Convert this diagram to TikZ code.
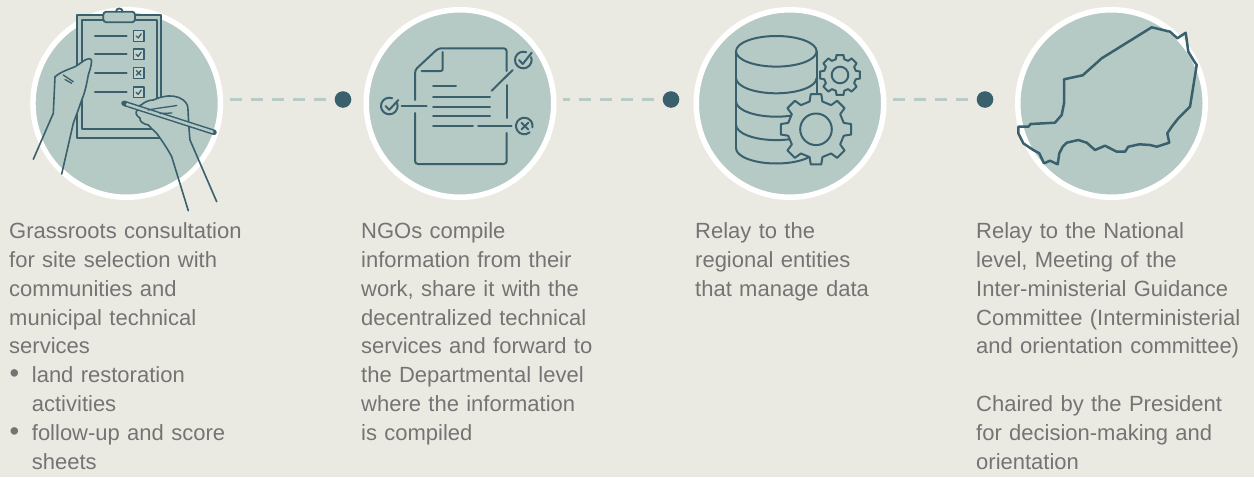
\documentclass[tikz,border=0pt]{standalone}
\usepackage{fontspec}
\setmainfont{Liberation Sans}
\usetikzlibrary{calc}
\definecolor{bgc}{RGB}{235,234,226}
\definecolor{disc}{RGB}{181,201,197}
\definecolor{ink}{RGB}{58,96,110}
\definecolor{dashc}{RGB}{184,203,199}
\definecolor{txt}{RGB}{116,116,116}
\definecolor{boxc}{RGB}{196,212,208}
\begin{document}
\begin{tikzpicture}[x=1pt,y=-1pt,
  stagecircle/.style={circle,fill=disc,draw=white,line width=5.5pt,minimum size=187.5pt,inner sep=0pt},
  stagedot/.style={circle,fill=ink,minimum size=16.6pt,inner sep=0pt},
  dashline/.style={dashc,line width=3pt,dash pattern=on 12pt off 9pt,shorten <=9pt,shorten >=6pt},
  desc/.style={anchor=base west,inner sep=0pt,text width=290pt,align=left,text=txt,
    font=\fontsize{22pt}{28.9pt}\selectfont},
  icon/.style={draw=ink,line width=2pt,line cap=round,line join=round},
  thin/.style={draw=ink,line width=1.6pt,line cap=round,line join=round}]

% canvas
\fill[bgc] (0,0) rectangle (1254,477);
\useasboundingbox (0,0) rectangle (1254,477);

% stage discs
\node[stagecircle] (c1) at (126.7,103.5) {};
\node[stagecircle] (c2) at (460,103.5) {};
\node[stagecircle] (c3) at (790,103.5) {};
\node[stagecircle] (c4) at (1111.5,103.5) {};

% stage markers
\node[stagedot] (d1) at (343,99.5) {};
\node[stagedot] (d2) at (671,99.5) {};
\node[stagedot] (d3) at (985,99.5) {};

% dashed links
\draw[dashline] (d1.west) -- (c1.east |- d1.west);
\draw[dashline] (d2.west) -- (c2.east |- d2.west);
\draw[dashline] (d3.west) -- (c3.east |- d3.west);

% ---------- clipboard held by two hands ----------
\filldraw[fill=disc,thin,line width=1.8pt] (77.3,15) rectangle (161,138);
\draw[thin,line width=1.8pt] (81.7,20) rectangle (156.7,129);
\filldraw[fill=disc,thin,line width=1.8pt,rounded corners=3pt] (103.3,11.7) rectangle (135,22.3);
\draw[thin,line width=1.8pt] (116,11.7) arc[start angle=180,end angle=360,radius=3.3];
\foreach \y in {36,54.3,73,92.3}{
  \draw[icon] (95,\y) -- (126.7,\y);
  \filldraw[thin,line width=1.5pt,fill=boxc] (133.3,{\y-5.3}) rectangle ++(10.7,10.7);
}
\foreach \y in {36,54.3,92.3}
  \draw[thin,line width=1.3pt] (136.2,\y) -- (138.2,{\y+2}) -- (141.2,{\y-2.2});
\draw[thin,line width=1.3pt] (136.4,70.6) -- (141,75.2) (141,70.6) -- (136.4,75.2);

% left hand
\begin{scope}
  \clip (126.7,103.5) circle[radius=91.5];
  \fill[disc] (33.3,159.3) -- (53.3,113.3) -- (55,76.7)
    .. controls (62,71) and (70,69) .. (75,66.7)
    .. controls (80,64) and (84,60) .. (86.7,59.3)
    .. controls (90,58) and (92,59) .. (91.5,62)
    .. controls (91,68) and (89,72) .. (88.3,75)
    .. controls (86,88) and (84,95) .. (81.7,100)
    .. controls (79,108) and (76,116) .. (73.3,123.3) -- (61.7,174) -- cycle;
\end{scope}
\draw[thin] (33.3,159.3) -- (53.3,113.3) -- (55,76.7)
    .. controls (62,71) and (70,69) .. (75,66.7)
    .. controls (80,64) and (84,60) .. (86.7,59.3)
    .. controls (90,58) and (92,59) .. (91.5,62)
    .. controls (91,68) and (89,72) .. (88.3,75)
    .. controls (86,88) and (84,95) .. (81.7,100)
    .. controls (79,108) and (76,116) .. (73.3,123.3) -- (61.7,174);
\draw[thin,line width=1.3pt] (63.3,75) -- (73.3,81.7) (65,79.5) -- (71.7,83.3);

% right hand
\begin{scope}
  \clip (126.7,103.5) circle[radius=91.5];
  \fill[disc] (188.3,210.7) -- (171.7,156.7)
    .. controls (166,146) and (160,138) .. (156.7,133.3)
    .. controls (152,129) and (150,127) .. (148.3,125)
    .. controls (143,124) and (139,121) .. (140,118)
    .. controls (136,116) and (135,112) .. (137.3,110)
    .. controls (137,107) and (139,105) .. (141,105)
    .. controls (146,101) and (150,100) .. (153.3,100)
    .. controls (158,98) and (161,97) .. (163.3,96.7)
    .. controls (170,95) and (178,96) .. (183.3,100)
    .. controls (187,103) and (188,106) .. (188,110)
    .. controls (188.5,120) and (189,130) .. (190,140) -- (216.7,201.7) -- cycle;
\end{scope}
\draw[thin] (188.3,210.7) -- (171.7,156.7)
    .. controls (166,146) and (160,138) .. (156.7,133.3)
    .. controls (152,129) and (150,127) .. (148.3,125)
    .. controls (143,124) and (139,121) .. (140,118)
    .. controls (136,116) and (135,112) .. (137.3,110)
    .. controls (137,107) and (139,105) .. (141,105)
    .. controls (146,101) and (150,100) .. (153.3,100)
    .. controls (158,98) and (161,97) .. (163.3,96.7)
    .. controls (170,95) and (178,96) .. (183.3,100)
    .. controls (187,103) and (188,106) .. (188,110)
    .. controls (188.5,120) and (189,130) .. (190,140) -- (216.7,201.7);
% pencil
\draw[ink,line width=5.5pt,line cap=round] (124,103.3) -- (214,132.3);
\draw[disc,line width=2.5pt,line cap=round] (127,104.3) -- (212.5,131.8);
\draw[thin,line width=1.3pt] (148,110) .. controls (158,108) and (168,107) .. (176.7,105.5)
  (160,113.5) -- (172,113);

% ---------- document with review marks ----------
\draw[icon,rounded corners=3pt] (415,100) -- (415,70) -- (438.3,48.3) -- (506.7,48.3) -- (506.7,71);
\draw[icon] (506.7,85) -- (506.7,118);
\draw[icon,rounded corners=3pt] (506.7,133) -- (506.7,164) -- (415,164) -- (415,113);
\draw[icon,rounded corners=2pt] (442.7,52) -- (442.7,71) -- (421.7,71);
\draw[icon] (433,86) -- (456,86);
\foreach \y in {96.7,106.7,116} \draw[icon] (433,\y) -- (490,\y);
\draw[icon] (433,126) -- (473,126);
\draw[icon] (478,126) -- (511.7,126);
\draw[icon] (491.7,90.7) -- (512.7,70);
\draw[icon] (401.7,106) -- (426.7,106);
% approved mark, upper right
\draw[icon,shift={(523.3,60)}] (-70:8.3) arc[start angle=-70,end angle=-380,radius=8.3];
\draw[icon] (519,60) -- (522.7,64) -- (531.7,52.7);
% approved mark, left
\draw[icon,shift={(389.3,106)}] (-70:8.3) arc[start angle=-70,end angle=-380,radius=8.3];
\draw[icon] (385.5,106) -- (389.3,109.8) -- (398.3,100);
% rejected mark
\draw[icon,shift={(524.3,126)}] (10:8.3) arc[start angle=10,end angle=-310,radius=8.3];
\draw[icon] (521.5,122.7) -- (528.3,129.5) (528.3,122.7) -- (521.5,129.5);

% ---------- database with gears ----------
\draw[icon] (736,51.3) -- (736,148.2);
\draw[icon] (816.6,51.3) -- (816.6,148.2);
\draw[icon] (776.3,51.3) ellipse[x radius=40.3,y radius=15.3];
\foreach \c in {78,101.4,124.8,148.2}
  \draw[icon] (736,\c) arc[start angle=180,end angle=0,x radius=40.3,y radius=15.3];
\begin{scope}[shift={(816,129.3)}]
  \filldraw[icon,fill=disc] (77:28.5)
    \foreach \a in {90,135,...,405}{ -- ({\a-13}:28.5) -- ({\a-8.5}:35.5) -- ({\a+8.5}:35.5) -- ({\a+13}:28.5) } -- cycle;
  \draw[icon] (0,0) circle[radius=15.8];
\end{scope}
\begin{scope}[shift={(840,75)}]
  \filldraw[icon,fill=disc] (75:16.3)
    \foreach \a in {90,135,...,405}{ -- ({\a-15}:16.3) -- ({\a-10}:20.3) -- ({\a+10}:20.3) -- ({\a+15}:16.3) } -- cycle;
  \draw[icon] (0,0) circle[radius=8.3];
\end{scope}

% ---------- country outline ----------
\draw[icon,line width=2.5pt] (1018.3,126.7) -- (1028.3,126.7) -- (1030.7,124) -- (1055,122.7)
  -- (1057.3,120) -- (1061.7,115) -- (1064,103.3) -- (1064,79.3) -- (1082.7,75.3)
  -- (1101.7,58.3) -- (1151.7,27.3) -- (1170,31.7) -- (1177.3,38.3) -- (1185.7,32.7)
  -- (1188.3,51.7) -- (1193.3,60) -- (1196.7,65) -- (1190,106.7) -- (1178.3,118.3)
  -- (1171.7,126.7) -- (1167.3,133.3) -- (1169.3,142.7) -- (1156.7,146.7) -- (1150,145)
  -- (1139.3,144.3) -- (1128.3,146.7) -- (1125,151.7) -- (1116.7,151.7) -- (1105,145.7)
  -- (1095,150) -- (1086.7,142.7) -- (1078.3,140) -- (1066.7,142.7) -- (1062.7,146.7)
  -- (1059.3,153.3) -- (1057.7,164.3) -- (1050,160.7) -- (1044,163.3) -- (1039.3,153.3)
  -- (1033.3,150) -- (1028.3,146.7) -- (1023.3,143.3) -- (1020,136.7) -- (1018.3,133.3) -- cycle;

% ---------- descriptions ----------
\node[desc] (t1) at (9,238.3) {Grassroots consultation\\
for site selection with\\
communities and\\
municipal technical\\
services\\
\makebox[22.7pt][l]{\hspace{0.5pt}\scalebox{1.25}{\textbullet}}land restoration\\
\hspace*{22.7pt}activities\\
\makebox[22.7pt][l]{\hspace{0.5pt}\scalebox{1.25}{\textbullet}}follow-up and score\\
\hspace*{22.7pt}sheets};

\node[desc] (t2) at (361,238.3) {NGOs compile\\
information from their\\
work, share it with the\\
decentralized technical\\
services and forward to\\
the Departmental level\\
where the information\\
is compiled};

\node[desc] (t3) at (695,238.3) {Relay to the\\
regional entities\\
that manage data};

\node[desc] (t4) at (976,238.3) {Relay to the National\\
level, Meeting of the\\
Inter-ministerial Guidance\\
Committee (Interministerial\\
and orientation committee)\\[28.9pt]
Chaired by the President\\
for decision-making and\\
orientation};
\end{tikzpicture}
\end{document}
